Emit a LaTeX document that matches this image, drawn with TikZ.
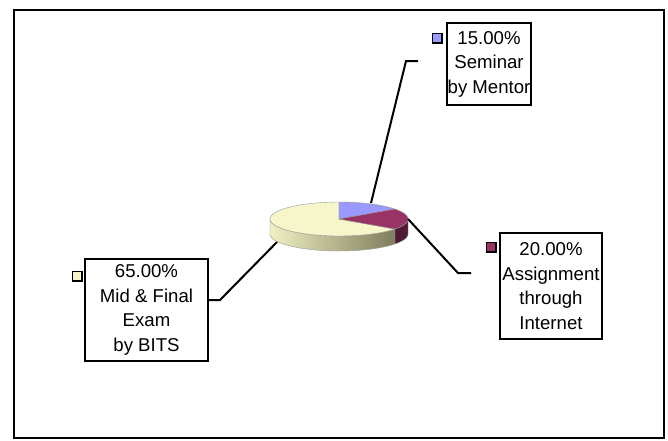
\documentclass[tikz,border=0pt]{standalone}
\usepackage{fontspec}
\setmainfont{Liberation Sans}
\definecolor{seminar}{HTML}{9999FF}
\definecolor{assign}{HTML}{993366}
\definecolor{assignside}{HTML}{4E1A36}
\definecolor{exam}{HTML}{F6F6CA}
\definecolor{examlight}{HTML}{F0F0C2}
\definecolor{examdark}{HTML}{7E7E5E}

\begin{document}
\begin{tikzpicture}[x=1pt,y=-1pt]
        \tikzstyle{lbl} = [rectangle, draw=black, line width=2pt, fill=white, align=center, inner sep=0pt, font=\fontsize{18.6}{24.5}\selectfont]
        \tikzstyle{key} = [rectangle, draw=black, line width=1.5pt, minimum size=9.5pt, inner sep=0pt]
        \tikzstyle{leader} = [line width=2pt, line join=miter]
        \tikzstyle{edge} = [draw=black!40, line width=0.4pt]
        \useasboundingbox (0,0) rectangle (668,440);
        \draw[line width=2pt] (14,10) rectangle (664,438);
        % pie: sides
        \path[edge, left color=examlight, middle color=exam!85!examdark, right color=examdark]
            plot[domain=-36:-180, samples=40, variable=\t] ({339+69*cos(\t)}, {219-17*sin(\t)})
            -- plot[domain=-180:-36, samples=40, variable=\t] ({339+69*cos(\t)}, {234-17*sin(\t)}) -- cycle;
        \path[edge, fill=assignside]
            plot[domain=0:-36, samples=15, variable=\t] ({339+69*cos(\t)}, {219-17*sin(\t)})
            -- plot[domain=-36:0, samples=15, variable=\t] ({339+69*cos(\t)}, {234-17*sin(\t)}) -- cycle;
        % pie: top
        \path[edge, fill=exam] (339,219)
            -- plot[domain=-36:-270, samples=80, variable=\t] ({339+69*cos(\t)}, {219-17*sin(\t)}) -- cycle;
        \path[edge, fill=seminar] (339,219)
            -- plot[domain=90:36, samples=25, variable=\t] ({339+69*cos(\t)}, {219-17*sin(\t)}) -- cycle;
        \path[edge, fill=assign] (339,219)
            -- plot[domain=36:-36, samples=30, variable=\t] ({339+69*cos(\t)}, {219-17*sin(\t)}) -- cycle;
        % labels
        \node (sem) [lbl, minimum width=84pt, minimum height=82pt] at (489,64) {15.00\%\\Seminar\\by Mentor};
        \node (asg) [lbl, minimum width=102pt, minimum height=106pt] at (551,286) {20.00\%\\Assignment\\through\\Internet};
        \node (exm) [lbl, minimum width=123pt, minimum height=102pt] at (146.5,310) {65.00\%\\Mid \& Final\\Exam\\by BITS};
        \node (semkey) [key, fill=seminar] at (437,38) {};
        \node (asgkey) [key, fill=assign] at (491,247) {};
        \node (exmkey) [key, fill=exam] at (77,276) {};
        % leader lines
        \coordinate (semfoot) at (371,203);
        \coordinate (semend) at (418,61);
        \coordinate (asgfoot) at (408,219);
        \coordinate (asgend) at (471,273);
        \coordinate (exmfoot) at (277,242);
        \draw[leader] (semfoot) -- (406,61) -- (semend);
        \draw[leader] (asgfoot) -- (458,273) -- (asgend);
        \draw[leader] (exmfoot) -- (220,300) -- ([yshift=10pt]exm.east);
\end{tikzpicture}
\end{document}
